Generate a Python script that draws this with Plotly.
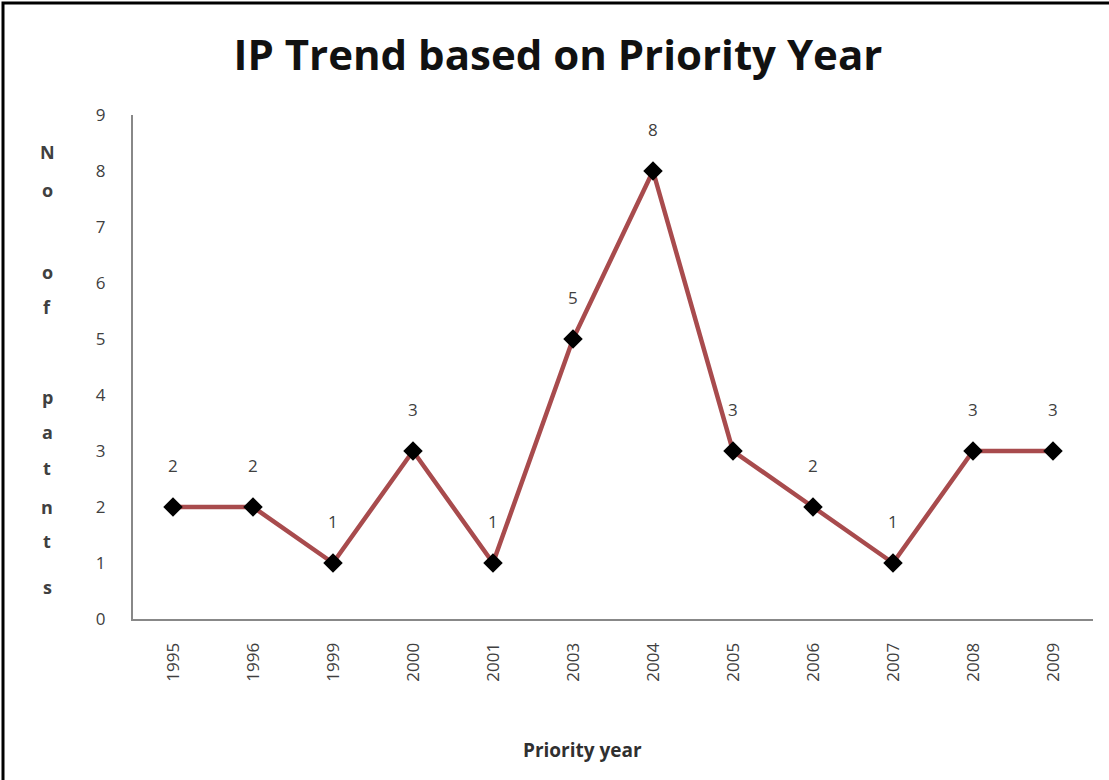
import plotly.graph_objects as go

years = ["1995", "1996", "1999", "2000", "2001", "2003", "2004", "2005", "2006", "2007", "2008", "2009"]
patents = [2, 2, 1, 3, 1, 5, 8, 3, 2, 1, 3, 3]
y_ticks = [0, 1, 2, 3, 4, 5, 6, 7, 8, 9]

title_text = "IP Trend based on Priority Year"
x_title = "Priority year"
y_title_letters = ["N", "o", "o", "f", "p", "a", "t", "n", "t", "s"]
y_title_pos = [152, 190, 272, 307, 397, 432, 468, 507, 541, 587]

W, H = 1109, 780
L, R, T, B = 133, 16, 115, 161
PW, PH = W - L - R, H - T - B

def px_to_paper_x(px):
    return (px - L) / PW

def px_to_paper_y(py):
    return (H - B - py) / PH

FONT = "'Open Sans', sans-serif"
TXT = "#404040"

fig = go.Figure()
fig.add_trace(go.Scatter(
    x=years, y=patents, mode="lines+markers",
    line=dict(color="#A84B4D", width=4.5),
    marker=dict(symbol="diamond", size=15, color="#000000"),
    hoverinfo="x+y", showlegend=False,
))

annotations = []
for i, v in enumerate(patents):
    annotations.append(dict(x=i, y=v, xref="x", yref="y", text=str(v), showarrow=False,
                            yshift=42, font=dict(family=FONT, size=17, color=TXT)))

annotations.append(dict(x=px_to_paper_x(582), y=px_to_paper_y(750), xref="paper", yref="paper",
                        text="<b>" + x_title + "</b>",
                        showarrow=False, font=dict(family=FONT, size=19, color="#303030"),
                        xanchor="center", yanchor="middle"))
for ch, py in zip(y_title_letters, y_title_pos):
    annotations.append(dict(x=px_to_paper_x(47), y=px_to_paper_y(py), xref="paper", yref="paper",
                            text="<b>" + ch + "</b>", showarrow=False,
                            font=dict(family=FONT, size=18, color="#404040"),
                            xanchor="center", yanchor="middle"))

fig.update_layout(
    width=W, height=H,
    margin=dict(l=L, r=R, t=T, b=B),
    paper_bgcolor="white", plot_bgcolor="white",
    title=dict(text="<b>" + title_text + "</b>", x=px_to_paper_x(558), xref="paper", xanchor="center",
               y=1 - 55 / H, yanchor="middle",
               font=dict(family=FONT, size=42, color="#111111")),
    annotations=annotations,
    shapes=[dict(type="rect", xref="paper", yref="paper",
                 x0=px_to_paper_x(3), x1=px_to_paper_x(1200),
                 y0=px_to_paper_y(900), y1=px_to_paper_y(3),
                 line=dict(color="black", width=3), fillcolor="rgba(0,0,0,0)", layer="below")],
)
fig.update_xaxes(
    type="category", showline=True, linecolor="#888888", linewidth=2,
    showgrid=False, ticks="", tickangle=-90, ticklabelstandoff=15,
    tickfont=dict(family=FONT, size=17, color=TXT), range=[-0.5, len(years) - 0.5],
)
fig.update_yaxes(
    range=[0, 9], tickvals=y_ticks, showline=True, linecolor="#888888", linewidth=2,
    showgrid=False, zeroline=False, ticks="", ticklabelstandoff=22,
    tickfont=dict(family=FONT, size=17, color=TXT),
)

fig.write_html("out.html", config={"displayModeBar": False},
               post_script="document.body.style.margin='0';")
